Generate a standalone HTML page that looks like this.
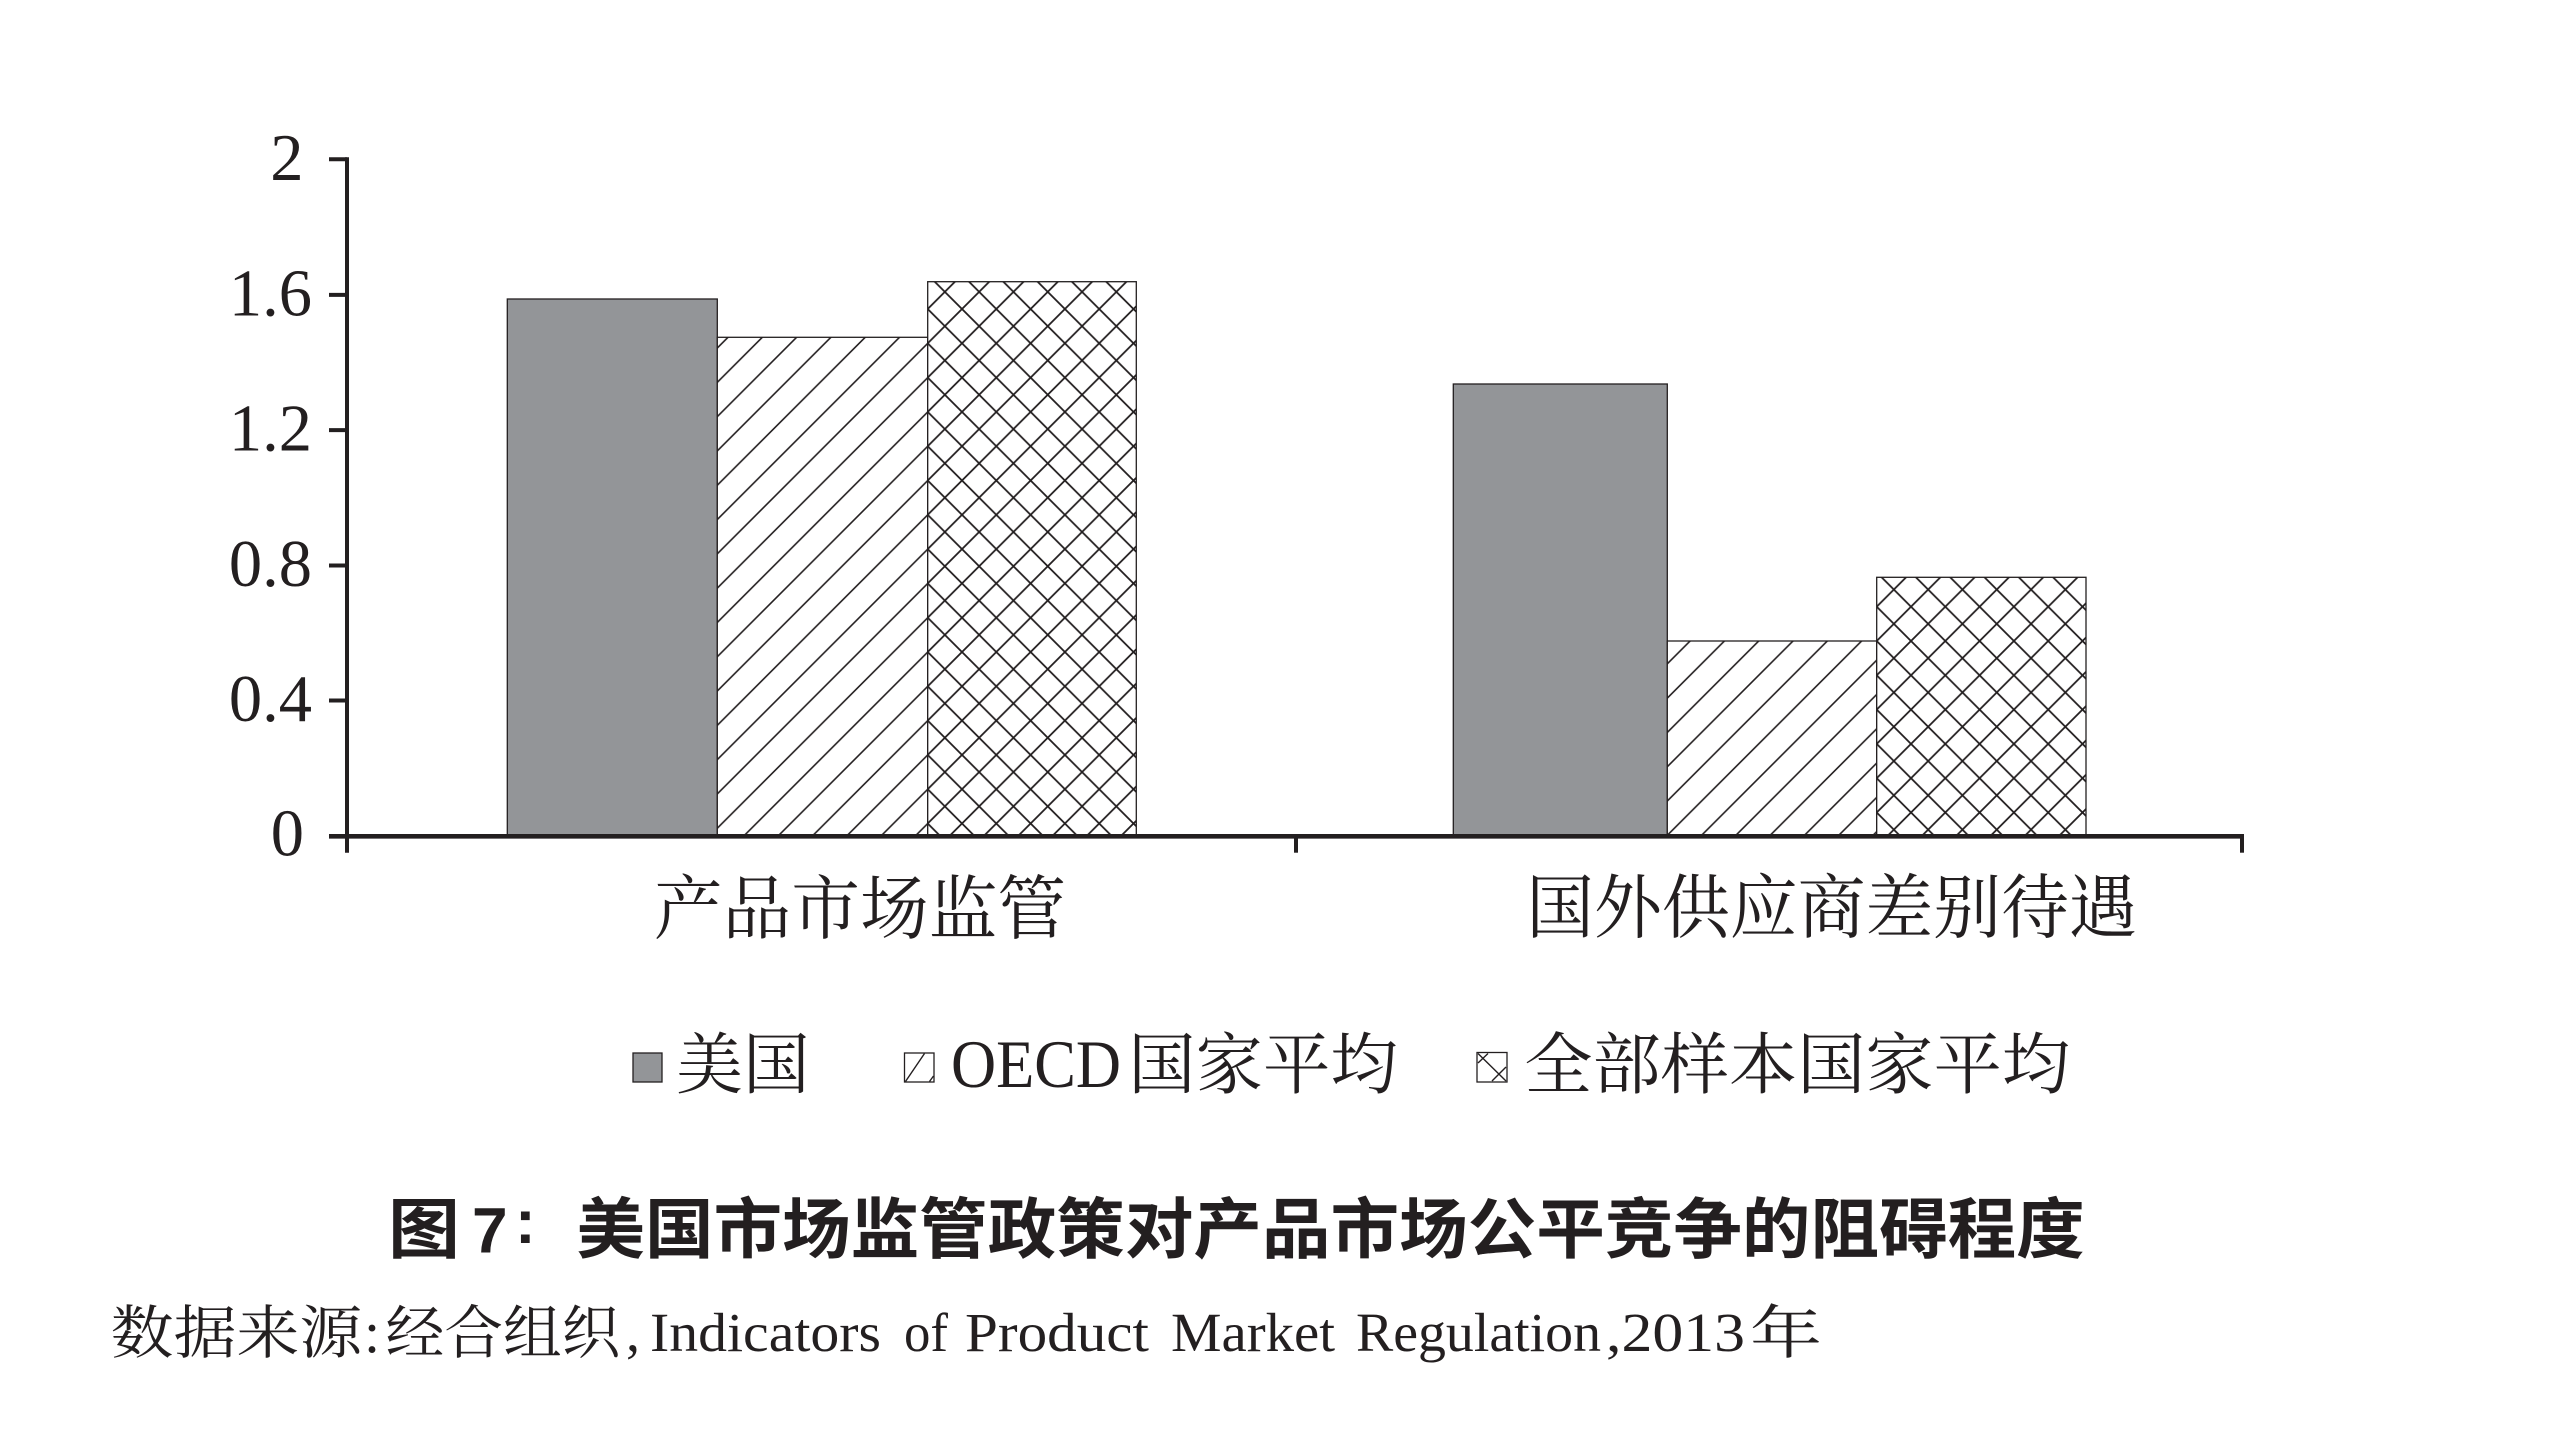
<!DOCTYPE html>
<html>
<head>
<meta charset="utf-8">
<style>
html,body{margin:0;padding:0;background:#ffffff;}
svg{display:block;}
.ser{font-family:"Liberation Serif","Noto Serif CJK SC","Noto Serif CJK JP","Noto Serif CJK","Noto Serif SC",serif;fill:#231f20;}
.tit{font-family:"Liberation Sans","Noto Sans CJK SC",sans-serif;font-weight:700;fill:#231f20;}
</style>
</head>
<body>
<svg width="2560" height="1440" viewBox="0 0 2560 1440" xmlns="http://www.w3.org/2000/svg">
<defs>
  <pattern id="d2" patternUnits="userSpaceOnUse" x="2" y="0" width="34.3" height="34.3">
    <path d="M-5,5 L5,-5 M-5,39.3 L39.3,-5 M29.3,39.3 L39.3,29.3" stroke="#231f20" stroke-width="1.6" fill="none"/>
  </pattern>
  <pattern id="d5" patternUnits="userSpaceOnUse" x="33" y="0" width="34.3" height="34.3">
    <path d="M-5,5 L5,-5 M-5,39.3 L39.3,-5 M29.3,39.3 L39.3,29.3" stroke="#231f20" stroke-width="1.6" fill="none"/>
  </pattern>
  <pattern id="c3" patternUnits="userSpaceOnUse" x="927.7" y="343.3" width="34.3" height="34.3">
    <path d="M-5,-5 L39.3,39.3 M-5,39.3 L39.3,-5" stroke="#231f20" stroke-width="1.8" fill="none"/>
  </pattern>
  <pattern id="c6" patternUnits="userSpaceOnUse" x="1876.7" y="641" width="34.3" height="34.3">
    <path d="M-5,-5 L39.3,39.3 M-5,39.3 L39.3,-5" stroke="#231f20" stroke-width="1.8" fill="none"/>
  </pattern>
</defs>

<rect x="0" y="0" width="2560" height="1440" fill="#ffffff"/>

<!-- Bars group 1 -->
<rect x="507.3" y="299" width="210" height="537.3" fill="#939598" stroke="#231f20" stroke-width="1.3"/>
<rect x="717.3" y="337.3" width="210.4" height="499" fill="#ffffff"/>
<rect x="717.3" y="337.3" width="210.4" height="499" fill="url(#d2)" stroke="#231f20" stroke-width="1.3"/>
<rect x="927.7" y="281.7" width="208.6" height="554.6" fill="#ffffff"/>
<rect x="927.7" y="281.7" width="208.6" height="554.6" fill="url(#c3)" stroke="#231f20" stroke-width="1.3"/>

<!-- Bars group 2 -->
<rect x="1453.3" y="384" width="214" height="452.3" fill="#939598" stroke="#231f20" stroke-width="1.3"/>
<rect x="1667.3" y="641" width="209.4" height="195.3" fill="#ffffff"/>
<rect x="1667.3" y="641" width="209.4" height="195.3" fill="url(#d5)" stroke="#231f20" stroke-width="1.3"/>
<rect x="1876.7" y="577.3" width="209.3" height="259" fill="#ffffff"/>
<rect x="1876.7" y="577.3" width="209.3" height="259" fill="url(#c6)" stroke="#231f20" stroke-width="1.3"/>

<!-- Axes -->
<g stroke="#231f20" fill="none">
  <line x1="347" y1="157.3" x2="347" y2="852.7" stroke-width="4"/>
  <line x1="329" y1="836.3" x2="2244" y2="836.3" stroke-width="4.7"/>
  <line x1="329" y1="159.3" x2="347" y2="159.3" stroke-width="4"/>
  <line x1="329" y1="294.9" x2="347" y2="294.9" stroke-width="4"/>
  <line x1="329" y1="430.1" x2="347" y2="430.1" stroke-width="4"/>
  <line x1="329" y1="565.5" x2="347" y2="565.5" stroke-width="4"/>
  <line x1="329" y1="700.5" x2="347" y2="700.5" stroke-width="4"/>
  <line x1="1296" y1="836" x2="1296" y2="852.7" stroke-width="4"/>
  <line x1="2242" y1="836" x2="2242" y2="852.7" stroke-width="4"/>
</g>

<!-- Y tick labels -->
<g class="ser" font-size="66.5" text-anchor="end">
  <text x="303.5" y="180">2</text>
  <text x="312" y="315.5">1.6</text>
  <text x="312" y="450.5">1.2</text>
  <text x="312" y="586">0.8</text>
  <text x="312" y="721">0.4</text>
  <text x="304" y="855.5">0</text>
</g>

<!-- Category labels -->
<text class="ser" x="653.9" y="933" font-size="70" textLength="412.2" lengthAdjust="spacingAndGlyphs">产品市场监管</text>
<text class="ser" x="1526.2" y="932" font-size="70" textLength="610.6" lengthAdjust="spacingAndGlyphs">国外供应商差别待遇</text>

<!-- Legend -->
<rect x="633" y="1053" width="29" height="29" fill="#939598" stroke="#231f20" stroke-width="1.3"/>
<text class="ser" x="676.3" y="1088" font-size="67" textLength="133.4" lengthAdjust="spacingAndGlyphs">美国</text>

<rect x="904.5" y="1053" width="29.5" height="29" fill="#ffffff" stroke="#231f20" stroke-width="1.3"/>
<line x1="905.5" y1="1081.5" x2="924.5" y2="1053.5" stroke="#231f20" stroke-width="1.4"/>
<line x1="929.5" y1="1081.5" x2="933.5" y2="1076" stroke="#231f20" stroke-width="1.4"/>
<text class="ser" x="951" y="1087" font-size="68" textLength="170" lengthAdjust="spacingAndGlyphs">OECD</text>
<text class="ser" x="1128.3" y="1088" font-size="67" textLength="269.4" lengthAdjust="spacingAndGlyphs">国家平均</text>

<rect x="1477" y="1052.5" width="30" height="29.5" fill="#ffffff" stroke="#231f20" stroke-width="1.3"/>
<line x1="1478" y1="1053.5" x2="1506" y2="1081" stroke="#231f20" stroke-width="1.4"/>
<line x1="1478" y1="1063" x2="1488" y2="1053.5" stroke="#231f20" stroke-width="1.4"/>
<line x1="1492" y1="1081" x2="1506" y2="1067" stroke="#231f20" stroke-width="1.4"/>
<text class="ser" x="1524.3" y="1088" font-size="67" textLength="545.8" lengthAdjust="spacingAndGlyphs">全部样本国家平均</text>

<!-- Title -->
<text class="tit" x="388" y="1252.5" font-size="66" textLength="72" lengthAdjust="spacingAndGlyphs">图</text>
<text class="tit" x="472" y="1252.5" font-size="64">7</text>
<text class="tit" x="515" y="1243" font-size="62">:</text>
<text class="tit" x="576.4" y="1252.5" font-size="66" textLength="1508.3" lengthAdjust="spacingAndGlyphs">美国市场监管政策对产品市场公平竞争的阻碍程度</text>

<!-- Source -->
<g class="ser">
  <text x="110.7" y="1353" font-size="58" textLength="251.6" lengthAdjust="spacingAndGlyphs">数据来源</text>
  <text x="364" y="1352" font-size="58">:</text>
  <text x="385.7" y="1353" font-size="58" textLength="234.6" lengthAdjust="spacingAndGlyphs">经合组织</text>
  <text x="626" y="1351" font-size="56">,</text>
  <text x="650" y="1351" font-size="55" textLength="231" lengthAdjust="spacingAndGlyphs">Indicators</text>
  <text x="904" y="1351" font-size="55" textLength="44" lengthAdjust="spacingAndGlyphs">of</text>
  <text x="965" y="1351" font-size="55" textLength="184" lengthAdjust="spacingAndGlyphs">Product</text>
  <text x="1171" y="1351" font-size="55" textLength="164" lengthAdjust="spacingAndGlyphs">Market</text>
  <text x="1356" y="1351" font-size="55" textLength="245" lengthAdjust="spacingAndGlyphs">Regulation</text>
  <text x="1606" y="1351" font-size="55" textLength="139" lengthAdjust="spacingAndGlyphs">,2013</text>
  <text x="1750" y="1353" font-size="58" textLength="72" lengthAdjust="spacingAndGlyphs"> 年</text>
</g>
</svg>
</body>
</html>
